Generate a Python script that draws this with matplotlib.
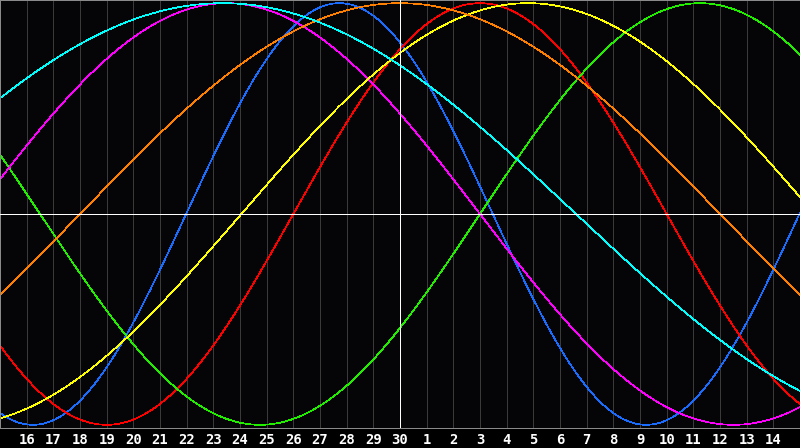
import numpy as np
import matplotlib
matplotlib.use('Agg')
import matplotlib.pyplot as plt

# day labels along the bottom (t = -14 .. 14, t=0 is "30")
day_labels = [str(d) for d in range(16, 31)] + [str(d) for d in range(1, 15)]
day_offsets = list(range(-14, 15))

# cycles: period in days and day of upward zero crossing (relative to "30")
periods = [23, 28, 33, 38, 43, 48, 53]
zero_up = [-8.02, -4.0, 3.0, -16.0, -5.95, -12.0, -19.9]
colors = ['#1a6cff', '#ff0000', '#22ee00', '#ff00ff', '#ffff00', '#ff8000', '#00ffff']

PX = 0.72  # one pixel in points at 100 dpi

fig = plt.figure(figsize=(8, 4.48), dpi=100, facecolor='black')
ax = fig.add_axes([0, 20 / 448, 1, 428 / 448])
ax.set_facecolor('#050508')
ax.set_xlim(-15, 15)
ax.set_ylim(-1.015, 1.015)

# day grid
for d in day_offsets:
    if d != 0:
        ax.axvline(d, color='#3a3a3a', lw=PX, antialiased=False, zorder=1)
ax.axvline(0, color='white', lw=PX, antialiased=False, zorder=3)
ax.axhline(0, color='white', lw=PX, antialiased=False, zorder=3)

t = np.linspace(-15, 15, 2000)
for p, z, c in zip(periods, zero_up, colors):
    ax.plot(t, np.sin(2 * np.pi * (t - z) / p), color=c, lw=0.5, antialiased=False, zorder=2)

ax.set_xticks([])
ax.set_yticks([])
for s in ax.spines.values():
    s.set_color('#8a8a8a')
    s.set_linewidth(PX)
ax.spines['right'].set_visible(False)

for d, lab in zip(day_offsets, day_labels):
    ax.text(d, -1.04, lab, ha='center', va='top',
            color='white', fontsize=10, fontweight='bold', family='DejaVu Sans Mono',
            clip_on=False)

fig.savefig('out.png', dpi=100, facecolor='black')
